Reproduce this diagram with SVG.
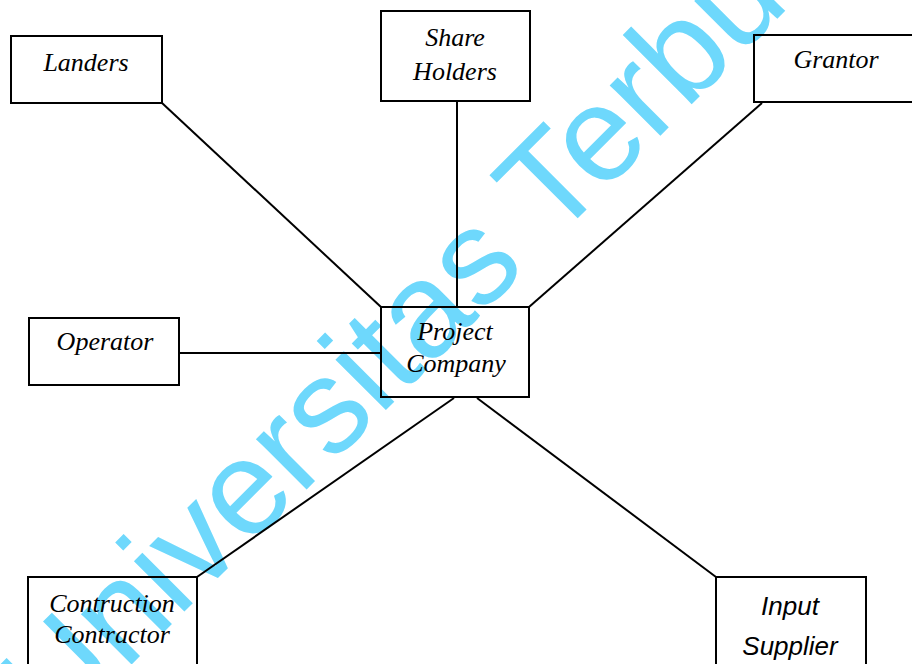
<svg xmlns="http://www.w3.org/2000/svg" width="912" height="664" viewBox="0 0 912 664">
<style>
.box{fill:none;stroke:#000;stroke-width:2}
.lbl{font-family:"Liberation Serif","Times New Roman",serif;font-style:italic;font-size:26px;fill:#000;text-anchor:middle}
.lbls{font-family:"Liberation Sans",Arial,sans-serif;font-style:italic;font-size:26px;fill:#000;text-anchor:middle}
.conn line{stroke:#000;stroke-width:2}
.wm{font-family:"Liberation Sans",Arial,sans-serif;font-size:135px;fill:#6ed8fc}
</style>
<rect width="912" height="664" fill="#fff"/>
<text class="wm" transform="translate(56,740) rotate(-45)">Universitas Terbuka</text>
<g id="connectors" class="conn">
<line x1="162" y1="103" x2="381" y2="307"/>
<line x1="457" y1="101" x2="457" y2="307"/>
<line x1="762" y1="103" x2="529" y2="307"/>
<line x1="179" y1="353" x2="381" y2="353"/>
<line x1="197" y1="577" x2="454" y2="398"/>
<line x1="716" y1="577" x2="477" y2="398"/>
</g>
<g id="landers"><rect class="box" x="11" y="36" width="151" height="67"/><text class="lbl" x="86" y="71">Landers</text></g>
<g id="shareholders"><rect class="box" x="381" y="11" width="149" height="90"/><text class="lbl" x="455" y="46">Share</text><text class="lbl" x="455" y="80">Holders</text></g>
<g id="grantor"><rect class="box" x="754" y="35" width="170" height="67"/><text class="lbl" x="836" y="68">Grantor</text></g>
<g id="operator"><rect class="box" x="29" y="318" width="150" height="67"/><text class="lbl" x="105" y="350">Operator</text></g>
<g id="project"><rect class="box" x="381" y="307" width="148" height="90"/><text class="lbl" x="455" y="340">Project</text><text class="lbl" x="456" y="372">Company</text></g>
<g id="construction"><rect class="box" x="28" y="577" width="169" height="100"/><text class="lbl" x="112" y="612">Contruction</text><text class="lbl" x="112" y="643">Contractor</text></g>
<g id="input"><rect class="box" x="716" y="577" width="150" height="100"/><text class="lbls" x="790" y="615">Input</text><text class="lbls" x="790" y="655">Supplier</text></g>
</svg>
